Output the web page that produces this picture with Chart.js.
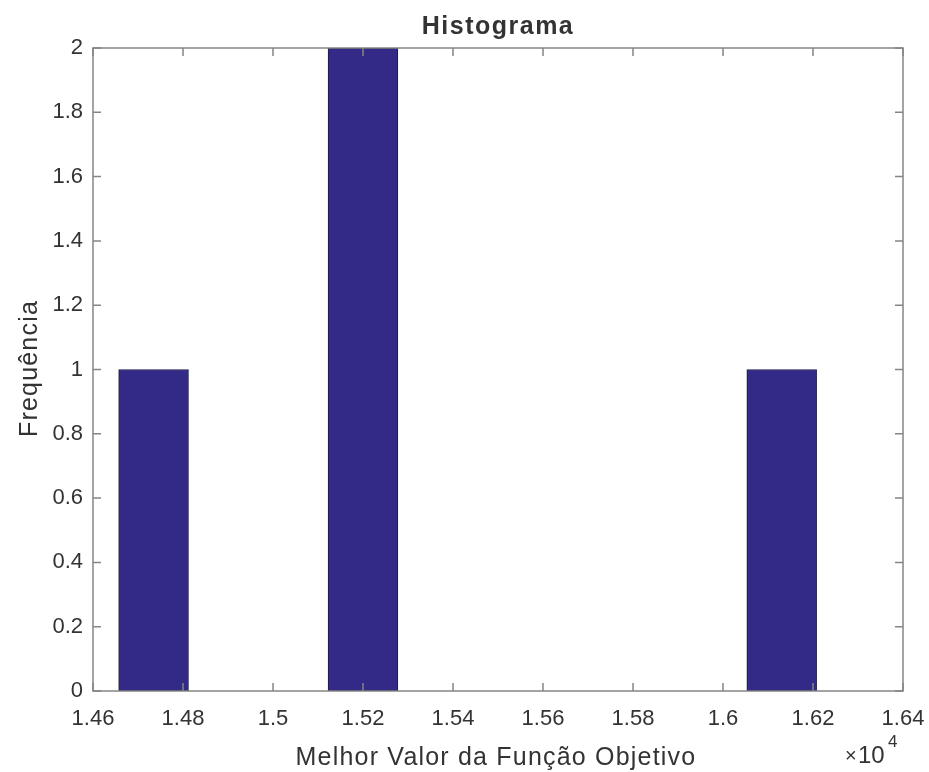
<!DOCTYPE html>
<html>
<head>
<meta charset="utf-8">
<title>Histograma</title>
<script src="https://cdn.jsdelivr.net/npm/chart.js@4/dist/chart.umd.min.js"></script>
<style>
  html, body { margin: 0; padding: 0; background: #fff; }
  #hist { display: block; }
</style>
</head>
<body>
<canvas id="hist" width="929" height="772"></canvas>
<script>
// centros das classes (10 classes do hist) e frequências
const binCenters = [14734.6, 14889.7, 15044.8, 15199.9, 15355.0, 15510.1, 15665.2, 15820.3, 15975.4, 16130.5];
const binCounts = [1, 0, 0, 2, 0, 0, 0, 0, 0, 1];
const xTicks = [14600, 14800, 15000, 15200, 15400, 15600, 15800, 16000, 16200, 16400];
const yTicks = [0, 0.2, 0.4, 0.6, 0.8, 1, 1.2, 1.4, 1.6, 1.8, 2];

const axisColor = '#858585';
const textColor = '#333333';
const fontName = '"Liberation Sans", Arial, Helvetica, sans-serif';

// caixa, ticks para dentro e textos estilo matlab
const matlabAxes = {
  id: 'matlabAxes',
  afterDraw(chart) {
    const ctx = chart.ctx;
    const a = chart.chartArea;
    const xs = chart.scales.x;
    const ys = chart.scales.y;
    const tl = 8;
    ctx.save();
    ctx.strokeStyle = axisColor;
    ctx.lineWidth = 1.5;
    ctx.strokeRect(a.left, a.top, a.right - a.left, a.bottom - a.top);
    ctx.beginPath();
    xTicks.forEach(v => {
      const px = xs.getPixelForValue(v);
      ctx.moveTo(px, a.bottom); ctx.lineTo(px, a.bottom - tl);
      ctx.moveTo(px, a.top); ctx.lineTo(px, a.top + tl);
    });
    yTicks.forEach(v => {
      const py = ys.getPixelForValue(v);
      ctx.moveTo(a.left, py); ctx.lineTo(a.left + tl, py);
      ctx.moveTo(a.right, py); ctx.lineTo(a.right - tl, py);
    });
    ctx.stroke();

    const cx = (a.left + a.right) / 2;
    ctx.fillStyle = textColor;
    ctx.textAlign = 'center';
    ctx.textBaseline = 'alphabetic';

    ctx.font = 'bold 25px ' + fontName;
    ctx.letterSpacing = '1.5px';
    ctx.fillText('Histograma', cx, 34);

    ctx.font = '25px ' + fontName;
    ctx.letterSpacing = '1.2px';
    ctx.fillText('Melhor Valor da Função Objetivo', cx - 2, 765);

    ctx.save();
    ctx.translate(37, (a.top + a.bottom) / 2 - 1);
    ctx.rotate(-Math.PI / 2);
    ctx.fillText('Frequência', 0, 0);
    ctx.restore();

    ctx.letterSpacing = '0px';
    ctx.textAlign = 'left';
    ctx.font = '20px ' + fontName;
    ctx.fillText('×', 845, 762);
    ctx.font = '24px ' + fontName;
    ctx.fillText('10', 858, 763);
    ctx.font = '17px ' + fontName;
    ctx.fillText('4', 888, 747);
    ctx.restore();
  }
};

const ctx = document.getElementById('hist').getContext('2d');
const chart = new Chart(ctx, {
  type: 'bar',
  data: {
    datasets: [
      {
        label: 'Frequência',
        data: binCenters.map((c, i) => ({ x: c, y: binCounts[i] })),
        backgroundColor: 'rgb(51, 41, 135)',
        borderColor: '#1c1a45',
        borderWidth: 1,
        borderSkipped: false,
        barPercentage: 1,
        categoryPercentage: 1
      }
    ]
  },
  options: {
    responsive: false,
    animation: false,
    layout: { padding: { top: 48, right: 26, bottom: 0, left: 0 } },
    plugins: {
      legend: { display: false },
      title: { display: false },
      tooltip: { enabled: false }
    },
    scales: {
      x: {
        type: 'linear',
        offset: false,
        min: 14600,
        max: 16400,
        afterFit: s => { s.height = 81; s.paddingLeft = 0; s.paddingRight = 0; },
        afterBuildTicks: s => { s.ticks = xTicks.map(v => ({ value: v })); },
        grid: { display: false, drawTicks: false, offset: false },
        border: { display: false },
        ticks: {
          padding: 15,
          color: textColor,
          font: { family: fontName, size: 22 },
          maxRotation: 0,
          autoSkip: false,
          callback: v => parseFloat((v / 10000).toFixed(2)).toString()
        }
      },
      y: {
        min: 0,
        max: 2,
        afterFit: s => { s.width = 93; s.paddingTop = 0; s.paddingBottom = 0; },
        afterBuildTicks: s => { s.ticks = yTicks.map(v => ({ value: v })); },
        grid: { display: false, drawTicks: false },
        border: { display: false },
        ticks: {
          padding: 10,
          color: textColor,
          font: { family: fontName, size: 22 },
          autoSkip: false,
          callback: v => parseFloat(v.toFixed(1)).toString()
        }
      }
    }
  },
  plugins: [matlabAxes]
});
</script>
</body>
</html>
